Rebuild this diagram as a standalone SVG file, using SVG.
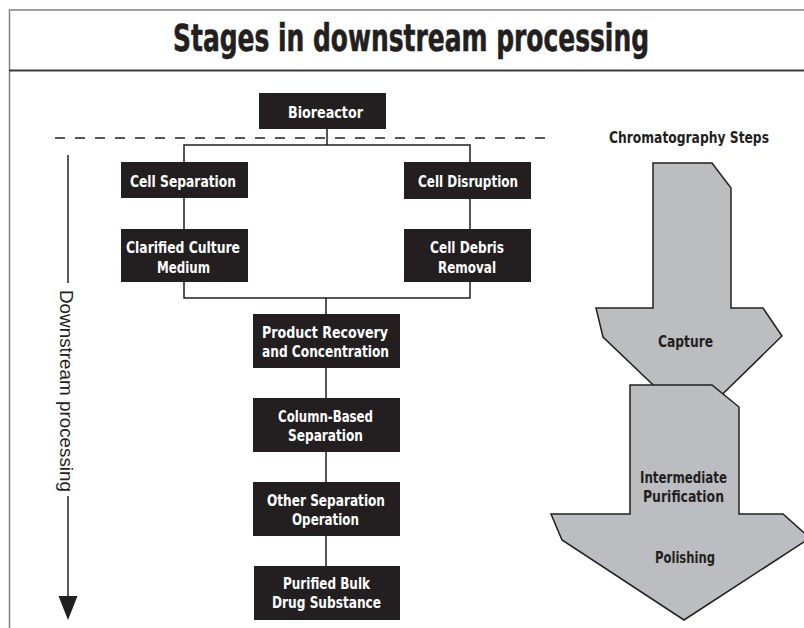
<svg xmlns="http://www.w3.org/2000/svg" width="804" height="628" viewBox="0 0 804 628">
<style>
.bx{fill:#231f20}
.w{fill:#ffffff;font-family:"Liberation Sans Narrow","DejaVu Sans Condensed","DejaVu Sans",sans-serif;font-weight:bold;font-size:16px;text-anchor:middle}
.k{fill:#231f20;font-family:"Liberation Sans Narrow","DejaVu Sans Condensed","DejaVu Sans",sans-serif;font-weight:bold;font-size:16px;text-anchor:middle}
.ln{fill:none;stroke:#231f20;stroke-width:1.5}
.sh{fill:#bcbdc0;stroke:#231f20;stroke-width:1.5;stroke-linejoin:miter}
</style>
<rect width="804" height="628" fill="#ffffff"/>
<g id="frame">
<path d="M9.5 628 V10 H804" fill="none" stroke="#808080" stroke-width="1.5"/>
<line x1="9" y1="70.5" x2="804" y2="70.5" stroke="#3a3a3a" stroke-width="2"/>
<text x="411" y="51" class="k" style="font-size:37px" stroke="#231f20" stroke-width="0.6" textLength="476" lengthAdjust="spacingAndGlyphs">Stages in downstream processing</text>
</g>
<g id="connectors">
<line x1="55" y1="138" x2="547" y2="138" class="ln" stroke-dasharray="10 10"/>
<path class="ln" d="M327 129 V145 M184 162 V145 H470 V162 M184 198 V229 M470 199 V229 M184 282 V298 H470 V282 M326 298 V314 M326 368 V398 M326 452 V482 M326 536 V566"/>
</g>
<g id="axis">
<line x1="68" y1="155" x2="68" y2="283" class="ln"/>
<line x1="68" y1="496" x2="68" y2="598" class="ln"/>
<polygon points="58.5,596 77.5,596 68,620" fill="#231f20"/>
<text transform="translate(59.5,290) rotate(90)" x="0" y="0" font-family="Liberation Sans, Arial, sans-serif" font-size="19" fill="#231f20" textLength="202" lengthAdjust="spacingAndGlyphs">Downstream processing</text>
</g>
<g id="bioreactor"><rect class="bx" x="259" y="93" width="127" height="36"/><text class="w" x="325.5" y="118" textLength="75" lengthAdjust="spacingAndGlyphs">Bioreactor</text></g>
<g id="cell-separation"><rect class="bx" x="121" y="162" width="127" height="36"/><text class="w" x="183" y="187" textLength="106" lengthAdjust="spacingAndGlyphs">Cell Separation</text></g>
<g id="clarified"><rect class="bx" x="121" y="229" width="127" height="53"/><text class="w" x="183" y="253" textLength="114" lengthAdjust="spacingAndGlyphs">Clarified Culture</text><text class="w" x="183.5" y="273" textLength="53" lengthAdjust="spacingAndGlyphs">Medium</text></g>
<g id="cell-disruption"><rect class="bx" x="404" y="162" width="127" height="37"/><text class="w" x="468" y="187" textLength="100" lengthAdjust="spacingAndGlyphs">Cell Disruption</text></g>
<g id="cell-debris"><rect class="bx" x="404" y="229" width="127" height="53"/><text class="w" x="467" y="253" textLength="74" lengthAdjust="spacingAndGlyphs">Cell Debris</text><text class="w" x="467" y="273" textLength="58" lengthAdjust="spacingAndGlyphs">Removal</text></g>
<g id="product-recovery"><rect class="bx" x="253" y="314" width="147" height="54"/><text class="w" x="325" y="338" textLength="126" lengthAdjust="spacingAndGlyphs">Product Recovery</text><text class="w" x="325.5" y="357" textLength="127" lengthAdjust="spacingAndGlyphs">and Concentration</text></g>
<g id="column-based"><rect class="bx" x="253" y="398" width="147" height="54"/><text class="w" x="325.5" y="422" textLength="95" lengthAdjust="spacingAndGlyphs">Column-Based</text><text class="w" x="325.5" y="441" textLength="75" lengthAdjust="spacingAndGlyphs">Separation</text></g>
<g id="other-separation"><rect class="bx" x="253" y="482" width="147" height="54"/><text class="w" x="326" y="506" textLength="118" lengthAdjust="spacingAndGlyphs">Other Separation</text><text class="w" x="325.5" y="525" textLength="67" lengthAdjust="spacingAndGlyphs">Operation</text></g>
<g id="purified"><rect class="bx" x="254" y="566" width="146" height="54"/><text class="w" x="326.5" y="589" textLength="87" lengthAdjust="spacingAndGlyphs">Purified Bulk</text><text class="w" x="326.5" y="607.5" textLength="109" lengthAdjust="spacingAndGlyphs">Drug Substance</text></g>
<g id="chromatography">
<text class="k" x="689" y="143" style="font-size:15px" textLength="160" lengthAdjust="spacingAndGlyphs">Chromatography Steps</text>
<g id="capture"><polygon class="sh" points="653,163 712,163 731,188 731,308 763,308 782,336 693,423 603,337 596,308 653,308"/><text class="k" x="685.5" y="347" textLength="55" lengthAdjust="spacingAndGlyphs">Capture</text></g>
<g id="intermediate-polishing"><polygon class="sh" points="630,385 712,385 739,407 739,514 783,514 810,538 684,620 562,540 551,514 630,514"/><text class="k" x="683.5" y="483" textLength="87" lengthAdjust="spacingAndGlyphs">Intermediate</text><text class="k" x="683.5" y="502" textLength="81" lengthAdjust="spacingAndGlyphs">Purification</text><text class="k" x="685" y="563" textLength="60" lengthAdjust="spacingAndGlyphs">Polishing</text></g>
</g>
</svg>
